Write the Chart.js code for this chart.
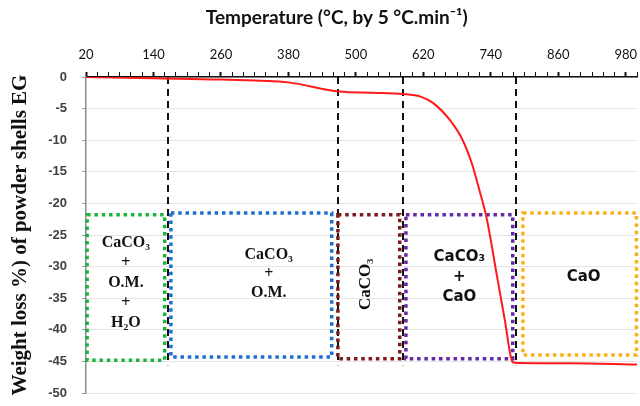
<!DOCTYPE html>
<html>
<head>
<meta charset="utf-8">
<script src="https://cdn.jsdelivr.net/npm/chart.js@4"></script>
<style>
  body { margin: 0; background: #fff; }
  canvas { display: block; }
</style>
</head>
<body>
<canvas id="tgaChart" width="640" height="406"></canvas>
<script>
// TGA curve
var temperature = [20, 140, 260, 380, 470, 530, 584, 615, 637, 667, 690, 706, 720, 733, 751, 765, 778, 782, 880, 1000];
var weightLoss = [0, -0.2, -0.4, -0.85, -2.3, -2.5, -2.7, -3.1, -4.1, -6.8, -10, -13.6, -18, -22.5, -31.5, -38.5, -45, -45.2, -45.3, -45.5];

// axis ticks
var tempLabels = [20, 140, 260, 380, 500, 620, 740, 860, 980];
var weightTicks = [0, -5, -10, -15, -20, -25, -30, -35, -40, -45, -50];

// decomposition stages
var stageLimits = [165, 468, 584, 784];
var stageFrom = [22, 171, 468, 589, 797];
var stageTo = [160, 457, 578, 779, 999];
var stageTop = [-21.8, -21.5, -21.8, -21.8, -21.5];
var stageBottom = [-44.8, -44.3, -44.6, -44.6, -44.0];
var stageText = [
    ['CaCO₃', '+', 'O.M.', '+', 'H₂O'],
    ['CaCO₃', '+', 'O.M.'],
    ['CaCO₃'],
    ['CaCO₃', '+', 'CaO'],
    ['CaO']
];

var xTitle = 'Temperature (°C, by 5 °C.min⁻¹)';

// look of each stage box
var boxStyles = [
    { color: '#1db43c', font: 'bold 16px "Liberation Serif"', cx: 91, cy: -32.5, gap: 20 },
    { color: '#1f6fd1', font: 'bold 16px "Liberation Serif"', cx: 345, cy: -31.1, gap: 19 },
    { color: '#7d1a1a', font: 'bold 17px "Liberation Serif"', cx: 518, cy: -32.8, gap: 0, rotate: true },
    { color: '#6228a6', font: 'bold 15px "DejaVu Sans"', cx: 684, cy: -31.6, gap: 20 },
    { color: '#fbb114', font: 'bold 15px "DejaVu Sans"', cx: 905, cy: -31.7, gap: 20 }
];

var stagesPlugin = {
    id: 'stages',
    beforeDatasetsDraw: function(chart) {
        var ctx = chart.ctx;
        var xs = chart.scales.x;
        var ys = chart.scales.y;
        ctx.save();

        // dashed stage limits
        ctx.strokeStyle = '#111';
        ctx.lineWidth = 2;
        ctx.setLineDash([7, 5]);
        stageLimits.forEach(function(t) {
            var px = Math.round(xs.getPixelForValue(t));
            ctx.beginPath();
            ctx.moveTo(px, ys.getPixelForValue(0));
            ctx.lineTo(px, ys.getPixelForValue(-45.6));
            ctx.stroke();
        });

        // dotted boxes
        ctx.lineWidth = 3.5;
        ctx.setLineDash([3.5, 3.8]);
        for (var i = 0; i < stageFrom.length; i++) {
            var st = boxStyles[i];
            var x1 = xs.getPixelForValue(stageFrom[i]);
            var x2 = xs.getPixelForValue(stageTo[i]);
            var y1 = ys.getPixelForValue(stageTop[i]);
            var y2 = ys.getPixelForValue(stageBottom[i]);
            ctx.strokeStyle = st.color;
            ctx.strokeRect(x1, y1, x2 - x1, y2 - y1);
        }

        // box texts
        ctx.setLineDash([]);
        ctx.fillStyle = '#111';
        ctx.textAlign = 'center';
        ctx.textBaseline = 'middle';
        for (var j = 0; j < stageText.length; j++) {
            var s = boxStyles[j];
            var lines = stageText[j];
            var cx = xs.getPixelForValue(s.cx);
            var cy = ys.getPixelForValue(s.cy);
            ctx.font = s.font;
            if (s.rotate) {
                ctx.save();
                ctx.translate(cx, cy);
                ctx.rotate(-Math.PI / 2);
                ctx.fillText(lines[0], 0, 0);
                ctx.restore();
                continue;
            }
            var start = cy - (lines.length - 1) * s.gap / 2;
            for (var k = 0; k < lines.length; k++) {
                ctx.fillText(lines[k], cx, start + k * s.gap);
            }
        }
        ctx.restore();
    },
    afterDraw: function(chart) {
        // x axis title, a little left of the plot centre as in the original
        var ctx = chart.ctx;
        ctx.save();
        ctx.font = 'bold 19px Lato';
        ctx.fillStyle = '#111';
        ctx.textAlign = 'center';
        ctx.textBaseline = 'middle';
        ctx.fillText(xTitle, chart.scales.x.getPixelForValue(466), 18);
        ctx.restore();
    }
};

new Chart(document.getElementById('tgaChart'), {
    type: 'line',
    data: {
        datasets: [{
            label: 'Weight loss',
            data: temperature.map(function(t, i) { return { x: t, y: weightLoss[i] }; }),
            borderColor: '#ff1a1a',
            borderWidth: 2,
            pointRadius: 0,
            cubicInterpolationMode: 'monotone',
            fill: false
        }]
    },
    options: {
        responsive: false,
        animation: false,
        devicePixelRatio: 1,
        layout: { autoPadding: false, padding: { top: 0, right: 3, bottom: 13, left: 0 } },
        plugins: {
            legend: { display: false },
            tooltip: { enabled: false }
        },
        scales: {
            x: {
                type: 'linear',
                position: 'top',
                min: 20,
                max: 1000,
                afterBuildTicks: function(axis) {
                    var ticks = [];
                    for (var v = 20; v <= 1000; v += 20) ticks.push({ value: v });
                    axis.ticks = ticks;
                },
                afterFit: function(axis) {
                    axis.height = 77;
                    axis.paddingLeft = 0;
                    axis.paddingRight = 0;
                },
                ticks: {
                    autoSkip: false,
                    maxRotation: 0,
                    padding: 9,
                    color: '#111',
                    font: { family: 'Lato', size: 13 },
                    callback: function(v) {
                        return tempLabels.indexOf(v) >= 0 ? String(v) : '';
                    }
                },
                grid: {
                    drawOnChartArea: false,
                    tickLength: 5,
                    tickColor: '#111',
                    tickWidth: function(c) {
                        return tempLabels.indexOf(c.tick && c.tick.value) >= 0 ? 2 : 1;
                    }
                },
                border: { color: '#111', width: 1.5 }
            },
            y: {
                type: 'linear',
                min: -50,
                max: 0,
                afterBuildTicks: function(axis) {
                    axis.ticks = weightTicks.map(function(v) { return { value: v }; });
                },
                afterFit: function(axis) {
                    // the label padding would otherwise shrink the plot at the bottom
                    axis.width = 86;
                    axis.paddingTop = 0;
                    axis.paddingBottom = 0;
                },
                ticks: {
                    padding: 15,
                    color: '#404040',
                    font: { family: 'Liberation Sans', size: 13, weight: 'bold' }
                },
                grid: {
                    color: '#e4e4e4',
                    lineWidth: 1,
                    tickLength: 4,
                    tickColor: '#999'
                },
                border: { color: '#8c8c8c', width: 1.5 },
                title: {
                    display: true,
                    text: 'Weight loss %) of powder shells EG',
                    color: '#111',
                    font: { family: 'Liberation Serif', size: 21, weight: 'bold' },
                    padding: { top: 8, bottom: 0 }
                }
            }
        }
    },
    plugins: [stagesPlugin]
});
</script>
</body>
</html>
